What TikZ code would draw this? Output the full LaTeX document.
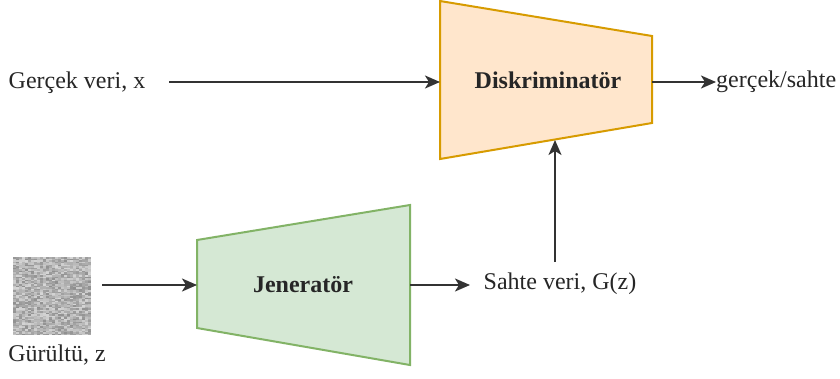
\documentclass[tikz,border=0pt]{standalone}
\usepackage{fontspec}
\setmainfont{Liberation Serif}
\usetikzlibrary{arrows.meta}
\definecolor{discfill}{HTML}{FFE6CC}
\definecolor{discline}{HTML}{D79B00}
\definecolor{genfill}{HTML}{D5E8D4}
\definecolor{genline}{HTML}{82B366}
\definecolor{wire}{HTML}{333333}
\tikzset{
  lbl/.style={font=\fontsize{24}{28}\selectfont, text=black!85, inner sep=0pt},
  blocklbl/.style={lbl, font=\fontsize{24}{28}\selectfont\bfseries},
  flow/.style={draw=wire, line width=2pt, -{Stealth[length=15pt,width=13pt,inset=4pt]}},
  block/.style={line width=2pt, line join=miter}
}
\begin{document}
\begin{tikzpicture}[x=1pt,y=-1pt]
\useasboundingbox (0,0) rectangle (840,378);

% Discriminator block
\draw[block, fill=discfill, draw=discline] (440,1) -- (652,36) -- (652,123) -- (440,159) -- cycle;
\node[blocklbl] (disc) at (548,80) {Diskriminatör};
\coordinate (discin) at (440,82);
\coordinate (discout) at (652,82);
\coordinate (discbot) at (555,140);

% Generator block
\draw[block, fill=genfill, draw=genline] (197,240) -- (410,205) -- (410,365) -- (197,328) -- cycle;
\node[blocklbl] (gen) at (303,285) {Jeneratör};
\coordinate (genin) at (197,285);
\coordinate (genout) at (410,285);

% Noise sample: a grid of random grey cells
\pgfmathsetseed{7}
\fill[black!28] (13,257) rectangle (91,335);
\foreach \i in {0,...,25}{
  \foreach \j in {0,...,51}{
    \pgfmathsetmacro{\g}{16+28*rnd}
    \fill[black!\g] (13+3*\i,257+1.5*\j) rectangle ++(3,1.5);
  }
}
\node[inner sep=0pt, minimum width=78pt, minimum height=78pt] (noise) at (52,296) {};
\node[lbl] (noiselbl) at (57,355) {Gürültü, z};

% Labels
\node[lbl] (real) at (77,83) {Gerçek veri, x};
\node[lbl, anchor=west] (verdict) at (716,82) {gerçek/sahte};
\node[lbl] (fake) at (560,284) {Sahte veri, G(z)};

% Free ends of the connectors
\coordinate (realstart) at (169,82);
\coordinate (noisestart) at (102,285);
\coordinate (fakestart) at (555,262);
\coordinate (fakein) at (470,285);

% Connectors
\draw[flow] (realstart) -- (discin);
\draw[flow] (discout) -- (verdict.west);
\draw[flow] (noisestart) -- (genin);
\draw[flow] (genout) -- (fakein);
\draw[flow] (fakestart) -- (discbot);
\end{tikzpicture}
\end{document}
